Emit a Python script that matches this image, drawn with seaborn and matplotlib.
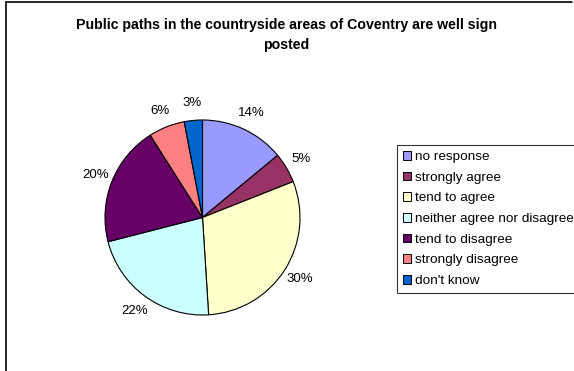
import matplotlib
matplotlib.use("Agg")
import matplotlib.pyplot as plt
import matplotlib.patches as mpatches
from matplotlib.lines import Line2D
import seaborn as sns

categories = [
    "no response",
    "strongly agree",
    "tend to agree",
    "neither agree nor disagree",
    "tend to disagree",
    "strongly disagree",
    "don't know",
]
shares = [14, 5, 30, 22, 20, 6, 3]
colors = ["#9999FF", "#993366", "#FFFFCC", "#CCFFFF", "#660066", "#FF8080", "#0066CC"]
title = "Public paths in the countryside areas of Coventry are well sign\nposted"

sns.set_theme(style="white")
plt.rcParams["font.family"] = ["Liberation Sans", "DejaVu Sans"]
plt.rcParams["text.color"] = "black"

W, H = 574, 371
fig = plt.figure(figsize=(W / 100, H / 100), dpi=100)
fig.patch.set_facecolor("white")

# pie axes: centre (202.5, 217.5) px from top-left, radius 97.5 px
cx, cy, r = 202.5, 217.5, 97.5
ax = fig.add_axes([(cx - r) / W, (H - cy - r) / H, 2 * r / W, 2 * r / H])
wedges, texts, autotexts = ax.pie(
    shares,
    colors=colors,
    startangle=90,
    counterclock=False,
    autopct="%.0f%%",
    pctdistance=1.18,
    wedgeprops=dict(edgecolor="black", linewidth=0.8),
    textprops=dict(fontsize=9.5, color="black"),
)
for t in autotexts:
    t.set_clip_on(False)
ax.set_xlim(-1, 1)
ax.set_ylim(-1, 1)
ax.set_aspect("equal")
ax.axis("off")

fig.text(286 / W, 1 - 35 / H, title, ha="center", va="center", color="black",
         fontsize=10.2, fontweight="bold", linespacing=1.5)

handles = [mpatches.Patch(facecolor=c, edgecolor="black", linewidth=0.7) for c in colors]
leg = fig.legend(
    handles, categories,
    loc="upper left",
    bbox_to_anchor=(397 / W, 1 - 145 / H),
    bbox_transform=fig.transFigure,
    fontsize=9.7,
    frameon=True,
    fancybox=False,
    shadow=False,
    handlelength=0.6,
    handleheight=0.6,
    handletextpad=0.3,
    labelspacing=0.64,
    borderpad=0.45,
    borderaxespad=0,
)
for t in leg.get_texts():
    t.set_color("black")
leg.get_frame().set_edgecolor("black")
leg.get_frame().set_linewidth(0.8)

# outer chart frame: top and left edges
fig.add_artist(Line2D([6 / W, 572 / W], [1 - 2 / H, 1 - 2 / H], transform=fig.transFigure,
                      color="black", linewidth=1.2))
fig.add_artist(Line2D([6 / W, 6 / W], [0, 1 - 2 / H], transform=fig.transFigure,
                      color="black", linewidth=1.2))

fig.savefig("out.png", dpi=100, facecolor="white")
